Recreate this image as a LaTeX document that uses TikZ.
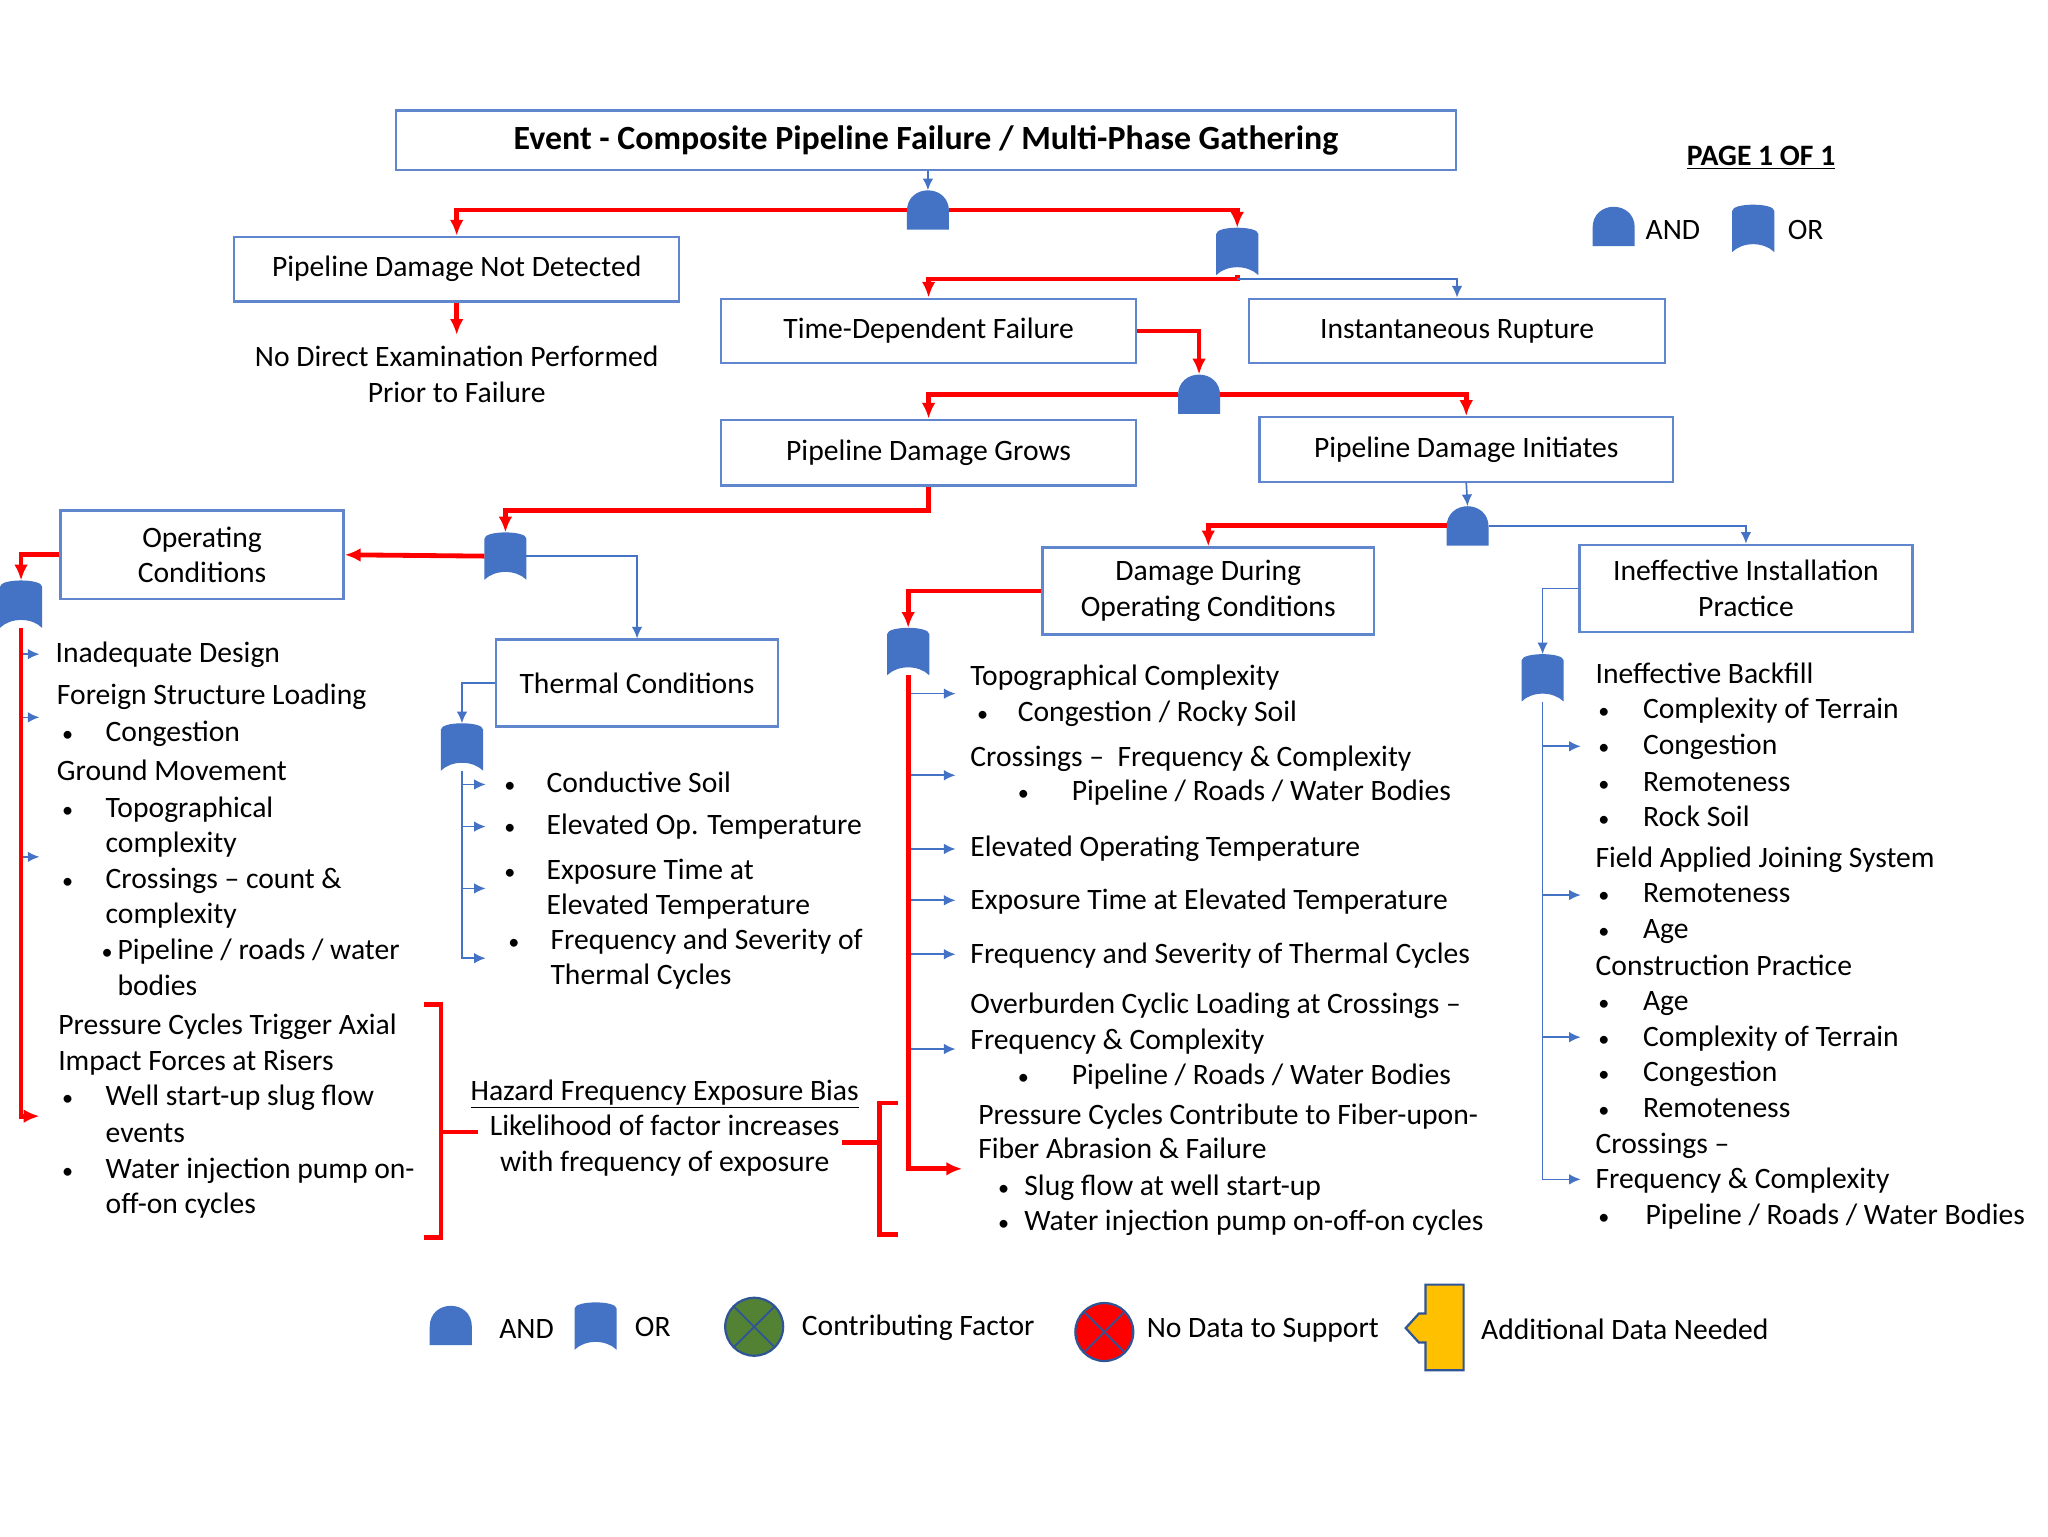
\documentclass[tikz,border=0pt]{standalone}
\usepackage{fontspec}
\setmainfont{Carlito}
\usetikzlibrary{arrows.meta}

\definecolor{gateblue}{RGB}{68,114,196}
\definecolor{boxblue}{RGB}{96,134,206}
\definecolor{faultred}{RGB}{255,0,0}
\definecolor{cfgreen}{RGB}{84,130,53}
\definecolor{adyellow}{RGB}{255,192,0}
\definecolor{edgeblue}{RGB}{47,85,151}

\newcommand{\tf}{\fontsize{16}{19.2}\selectfont}
\newcommand{\tfb}{\fontsize{18.3}{22}\selectfont\bfseries}
\newcommand{\bul}[2][0.825cm]{\makebox[#1][l]{\scalebox{0.75}{•}}#2}

\tikzset{
  gatebox/.style={minimum width=0.8cm, inner sep=0pt, outer sep=0pt},
  andgate/.style={gatebox, minimum height=0.75cm, path picture={
    \fill[gateblue] (path picture bounding box.south west) -- ++(0.8cm,0) -- ++(0,0.35cm)
      .. controls +(0,0.53cm) and +(0,0.53cm) .. ++(-0.8cm,0) -- cycle;}},
  orgate/.style={gatebox, minimum height=0.9cm, path picture={
    \fill[gateblue] (path picture bounding box.south west) -- ++(0,0.78cm)
      .. controls +(0,0.16cm) and +(0,0.16cm) .. ++(0.8cm,0) -- ++(0,-0.78cm)
      .. controls +(-0.2cm,0.2cm) and +(0.2cm,0.2cm) .. ++(-0.8cm,0) -- cycle;}},
  box/.style={draw=boxblue, line width=1.3pt, fill=white, align=center, font=\tf, inner sep=2pt},
  plain/.style={align=center, font=\tf, inner sep=0pt},
  item/.style={anchor=base west, inner sep=0pt, font=\tf},
  redline/.style={draw=faultred, line width=2.6pt},
  redarrow/.style={redline, -{Latex[length=0.3cm,width=0.26cm]}},
  blueline/.style={draw=gateblue, line width=0.9pt},
  bluearrow/.style={blueline, -{Latex[length=0.22cm,width=0.2cm]}},
  factor/.style={circle, minimum size=1.1cm, inner sep=0pt, draw=edgeblue, line width=1.2pt,
    path picture={\draw[edgeblue, line width=1pt]
      (path picture bounding box.south west) -- (path picture bounding box.north east)
      (path picture bounding box.north west) -- (path picture bounding box.south east);}}
}

\begin{document}
\begin{tikzpicture}[x=0.025cm, y=-0.025cm]
\useasboundingbox[fill=white] (0,0) rectangle (1556,1167);

% event boxes
\node[box, minimum width=20.125cm, minimum height=1.125cm, font=\tfb] (event) at (703.5,106.5) {Event - Composite Pipeline Failure / Multi-Phase Gathering};
\node[box, minimum width=8.45cm, minimum height=1.225cm] (pdnd) at (347,204.5) {Pipeline Damage Not Detected};
\node[box, minimum width=7.875cm, minimum height=1.225cm] (tdf) at (705.5,251.5) {Time-Dependent Failure};
\node[box, minimum width=7.9cm, minimum height=1.225cm] (ir) at (1107,251.5) {Instantaneous Rupture};
\node[box, minimum width=7.875cm, minimum height=1.25cm] (pdg) at (705.5,344) {Pipeline Damage Grows};
\node[box, minimum width=7.85cm, minimum height=1.225cm] (pdi) at (1114,341.5) {Pipeline Damage Initiates};
\node[box, minimum width=5.375cm, minimum height=1.675cm] (oc) at (153.5,421.5) {Operating\\Conditions};
\node[box, minimum width=5.35cm, minimum height=1.65cm] (tc) at (484,519) {Thermal Conditions};
\node[box, minimum width=6.3cm, minimum height=1.65cm] (ddoc) at (918,449) {Damage During\\Operating Conditions};
\node[box, minimum width=6.325cm, minimum height=1.65cm] (iip) at (1326.5,447) {Ineffective Installation\\Practice};
\node[plain, inner sep=6pt] (ndex) at (347,284.5) {No Direct Examination Performed\\Prior to Failure};

% gates
\node[andgate] (g1) at (705,159.5) {};
\node[orgate] (g2) at (940,191) {};
\node[andgate] (g3) at (911,299.5) {};
\node[orgate] (g4) at (384,422.5) {};
\node[orgate] (g5) at (16,459) {};
\node[andgate] (g6) at (1115,399.5) {};
\node[orgate] (g7) at (690,495) {};
\node[orgate] (g8) at (1172,515) {};
\node[orgate] (g9) at (351,567.5) {};

% tree
\draw[bluearrow] (event.south -| g1) -- (g1.north);
\draw[redarrow] (g1.west) -| (pdnd.north);
\draw[redarrow] (g1.east) -| (g2.north);
\draw[redarrow] (g2.south) -- ++(0,3) coordinate (g2b) -| (tdf.north);
\draw[bluearrow] (g2b) -| (ir.north);
\draw[redarrow] (pdnd.south) -- (ndex.north);
\draw[redarrow] (tdf.east) -| (g3.north);
\draw[redarrow] (g3.west) -| (pdg.north);
\draw[redarrow] (g3.east) -| (pdi.north);
\draw[redarrow] (pdg.south) -- ++(0,18) -| (g4.north);
\draw[redarrow] (g4.west) -- (oc.east);
\draw[bluearrow] (g4.east) -| (tc.north);
\draw[redarrow] (oc.west) -| (g5.north);
\draw[bluearrow] (pdi.south) -- (g6.north);
\draw[redarrow] (g6.west) -| (ddoc.north);
\draw[bluearrow] (g6.east) -| (iip.north);
\draw[redarrow] (ddoc.west) -| (g7.north);
\draw[bluearrow] (iip.west) -| (g8.north);
\draw[bluearrow] (tc.west) -| (g9.north);

% branch ends
\coordinate (la1) at (30,497);
\coordinate (la2) at (30,545);
\coordinate (la3) at (30,651);
\coordinate (lend) at (30,848);
\coordinate (ta1) at (369,596);
\coordinate (ta2) at (369,628);
\coordinate (ta3) at (369,675);
\coordinate (tend) at (369,728);
\coordinate (da1) at (726,527);
\coordinate (da2) at (726,589);
\coordinate (da3) at (726,645);
\coordinate (da4) at (726,684);
\coordinate (da5) at (726,725);
\coordinate (da6) at (726,797);
\coordinate (dend) at (731,888);
\coordinate (ia1) at (1201,567);
\coordinate (ia2) at (1201,680);
\coordinate (ia3) at (1201,788);
\coordinate (iend) at (1201,896);

\draw[bluearrow] (g5.south |- la1) -- (la1);
\draw[bluearrow] (g5.south |- la2) -- (la2);
\draw[bluearrow] (g5.south |- la3) -- (la3);
\draw[redarrow] (g5.south) |- (lend);
\draw[bluearrow] (g9.south |- ta1) -- (ta1);
\draw[bluearrow] (g9.south |- ta2) -- (ta2);
\draw[bluearrow] (g9.south |- ta3) -- (ta3);
\draw[bluearrow] (g9.south) |- (tend);
\draw[bluearrow] (g7.south |- da1) -- (da1);
\draw[bluearrow] (g7.south |- da2) -- (da2);
\draw[bluearrow] (g7.south |- da3) -- (da3);
\draw[bluearrow] (g7.south |- da4) -- (da4);
\draw[bluearrow] (g7.south |- da5) -- (da5);
\draw[bluearrow] (g7.south |- da6) -- (da6);
\draw[redarrow] (g7.south) |- (dend);
\draw[bluearrow] (g8.south |- ia1) -- (ia1);
\draw[bluearrow] (g8.south |- ia2) -- (ia2);
\draw[bluearrow] (g8.south |- ia3) -- (ia3);
\draw[bluearrow] (g8.south) |- (iend);

% operating conditions list
\node[item] (oc1) at (42,503) {Inadequate Design};
\node[item] (oc2) at (43,535) {Foreign Structure Loading};
\node[item] (oc3) at (47,563) {\bul{Congestion}};
\node[item] (oc4) at (43,593) {Ground Movement};
\node[item] (oc5) at (47,621) {\bul{Topographical}};
\node[item] (oc6) at (80,648) {complexity};
\node[item] (oc7) at (47,675) {\bul{Crossings – count \&}};
\node[item] (oc8) at (80,702) {complexity};
\node[item] (oc9) at (77,729) {\bul[0.3cm]{Pipeline / roads / water}};
\node[item] (oc10) at (89,756) {bodies};
\node[item] (oc11) at (44,786) {Pressure Cycles Trigger Axial};
\node[item] (oc12) at (44,813) {Impact Forces at Risers};
\node[item] (oc13) at (47,840) {\bul{Well start-up slug flow}};
\node[item] (oc14) at (80,868) {events};
\node[item] (oc15) at (47,895) {\bul{Water injection pump on-}};
\node[item] (oc16) at (80,922) {off-on cycles};

% thermal list
\node[item] (tc1) at (383,602) {\bul[0.8cm]{Conductive Soil}};
\node[item] (tc2) at (383,634) {\bul[0.8cm]{Elevated Op. Temperature}};
\node[item] (tc3) at (383,668) {\bul[0.8cm]{Exposure Time at}};
\node[item] (tc4) at (415,695) {Elevated Temperature};
\node[item] (tc5) at (386,721) {\bul[0.8cm]{Frequency and Severity of}};
\node[item] (tc6) at (418,748) {Thermal Cycles};

% damage during operating conditions list
\node[item] (dd1) at (737,521) {Topographical Complexity};
\node[item] (dd2) at (742,548) {\bul[0.775cm]{Congestion / Rocky Soil}};
\node[item] (dd3) at (737,582) {Crossings –~ Frequency \& Complexity};
\node[item] (dd4) at (773,608) {\bul[1.025cm]{Pipeline / Roads / Water Bodies}};
\node[item] (dd5) at (737,651) {Elevated Operating Temperature};
\node[item] (dd6) at (737,691) {Exposure Time at Elevated Temperature};
\node[item] (dd7) at (737,732) {Frequency and Severity of Thermal Cycles};
\node[item] (dd8) at (737,770) {Overburden Cyclic Loading at Crossings –};
\node[item] (dd9) at (737,797) {Frequency \& Complexity};
\node[item] (dd10) at (773,824) {\bul[1.025cm]{Pipeline / Roads / Water Bodies}};
\node[item] (dd11) at (743,854) {Pressure Cycles Contribute to Fiber-upon-};
\node[item] (dd12) at (743,880) {Fiber Abrasion \& Failure};
\node[item] (dd13) at (758,908) {\bul[0.5cm]{Slug flow at well start-up}};
\node[item] (dd14) at (758,935) {\bul[0.5cm]{Water injection pump on-off-on cycles}};

% installation list
\node[item] (ii1) at (1212,519) {Ineffective Backfill};
\node[item] (ii2) at (1214,546) {\bul[0.85cm]{Complexity of Terrain}};
\node[item] (ii3) at (1214,573) {\bul[0.85cm]{Congestion}};
\node[item] (ii4) at (1214,601) {\bul[0.85cm]{Remoteness}};
\node[item] (ii5) at (1214,628) {\bul[0.85cm]{Rock Soil}};
\node[item] (ii6) at (1212,659) {Field Applied Joining System};
\node[item] (ii7) at (1214,686) {\bul[0.85cm]{Remoteness}};
\node[item] (ii8) at (1214,713) {\bul[0.85cm]{Age}};
\node[item] (ii9) at (1212,741) {Construction Practice};
\node[item] (ii10) at (1214,768) {\bul[0.85cm]{Age}};
\node[item] (ii11) at (1214,795) {\bul[0.85cm]{Complexity of Terrain}};
\node[item] (ii12) at (1214,822) {\bul[0.85cm]{Congestion}};
\node[item] (ii13) at (1214,849) {\bul[0.85cm]{Remoteness}};
\node[item] (ii14) at (1212,876) {Crossings –};
\node[item] (ii15) at (1212,903) {Frequency \& Complexity};
\node[item] (ii16) at (1214,930) {\bul[0.9cm]{Pipeline / Roads / Water Bodies}};

% exposure bias
\node[plain] (hz) at (505,857) {\underline{Hazard Frequency Exposure Bias}\\Likelihood of factor increases\\with frequency of exposure};
\draw[redline] (322,763) -- (335,763) -- (335,940) -- (322,940);
\draw[redline] (335,860) -- (363,860);
\draw[redline] (682,838) -- (668,838) -- (668,938) -- (682,938);
\draw[redline] (668,868) -- (640,868);

% page and legends
\node[plain, font=\fontsize{16}{19}\selectfont\bfseries] (page) at (1338,120) {\underline{PAGE 1 OF 1}};
\node[andgate] (kand) at (1226,172) {};
\node[item, anchor=west] (kandt) at (1250,175) {AND};
\node[orgate] (kor) at (1332,173.5) {};
\node[item, anchor=west] (kort) at (1358,175) {OR};

\node[andgate] (band) at (342.5,1007) {};
\node[plain] (bandt) at (400,1010) {AND};
\node[orgate] (bor) at (452.5,1007.5) {};
\node[plain] (bort) at (496,1008) {OR};
\node[factor, fill=cfgreen] (cf) at (573,1008) {};
\node[item, anchor=west] (cft) at (609,1009) {Contributing Factor};
\node[factor, fill=faultred] (nd) at (839,1012) {};
\node[item, anchor=west] (ndt) at (871,1011) {No Data to Support};
\draw[draw=edgeblue, fill=adyellow, line width=1.2pt] (1112,976) -- (1083,976) -- (1083,998) -- (1078,998) -- (1068,1009) -- (1078,1020) -- (1083,1020) -- (1083,1041) -- (1112,1041) -- cycle;
\node[item, anchor=west] (adt) at (1125,1010) {Additional Data Needed};
\end{tikzpicture}
\end{document}
